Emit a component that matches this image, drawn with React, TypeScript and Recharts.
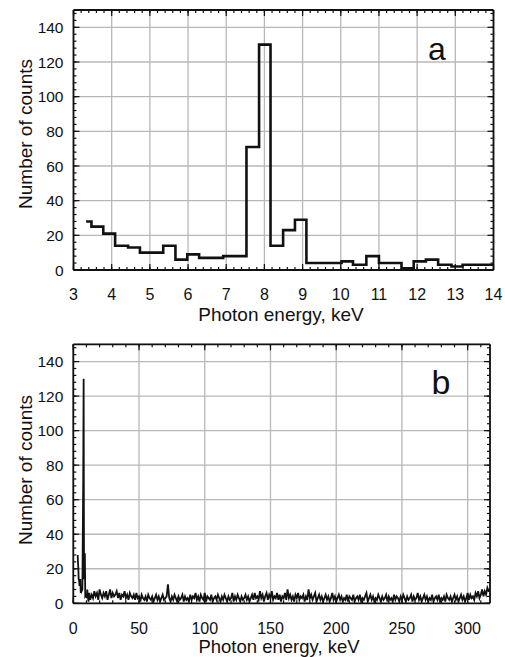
import { LineChart, Line, XAxis, YAxis, CartesianGrid, ReferenceLine } from 'recharts';

const FONT = '"Liberation Sans", Arial, Helvetica, sans-serif';

// panel a: left edge of each histogram bin (keV) and its counts
const binEdges = [3.33, 3.47, 3.78, 4.09, 4.43, 4.74, 5.35, 5.67, 5.98, 6.29, 6.92, 7.53, 7.86, 8.16, 8.49, 8.8, 9.1, 10.02, 10.32, 10.67, 11.0, 11.59, 11.91, 12.23, 12.55, 12.9, 13.19, 14.0];
const binCounts = [28, 25, 21, 14, 13, 10, 14, 6, 9, 7, 8, 71, 130, 14, 23, 29, 4, 5, 3, 8, 4, 1, 5, 6, 3, 2, 3, 3];

// panel b: the wide spectrum above 14 keV, read in 1 keV steps (rows of 20)
const wideStart = 14;
const wideStep = 1;
const wideCounts = [
  5, 3, 7, 4, 6, 2, 8, 5, 3, 6, 4, 7, 2, 5, 8, 3, 6, 4, 5, 7,
  3, 6, 2, 5, 4, 7, 3, 5, 2, 6, 4, 3, 5, 2, 6, 3, 4, 1, 5, 3,
  2, 4, 1, 5, 3, 2, 4, 1, 3, 5, 2, 4, 1, 3, 5, 2, 3, 4, 11, 3,
  1, 4, 2, 5, 3, 1, 4, 2, 3, 5, 1, 4, 2, 3, 1, 5, 2, 4, 3, 6,
  2, 4, 1, 5, 3, 2, 6, 1, 4, 3, 2, 5, 1, 3, 4, 2, 5, 3, 1, 4,
  2, 5, 3, 1, 4, 2, 3, 6, 1, 4, 2, 5, 3, 1, 4, 2, 3, 5, 2, 4,
  1, 3, 5, 2, 6, 3, 4, 2, 7, 3, 5, 1, 4, 6, 2, 5, 3, 7, 2, 4,
  3, 6, 2, 5, 1, 4, 3, 6, 2, 8, 3, 5, 2, 4, 1, 5, 3, 6, 2, 4,
  3, 5, 1, 4, 2, 8, 3, 5, 2, 4, 6, 1, 3, 5, 2, 4, 1, 3, 5, 2,
  4, 1, 3, 6, 2, 4, 1, 3, 5, 2, 4, 1, 3, 2, 5, 1, 4, 3, 2, 5,
  1, 3, 4, 2, 5, 1, 3, 2, 4, 6, 1, 3, 5, 2, 4, 1, 3, 2, 5, 3,
  1, 4, 2, 3, 5, 1, 4, 2, 3, 1, 5, 2, 4, 3, 1, 4, 2, 5, 3, 1,
  4, 2, 3, 5, 1, 4, 2, 3, 6, 2, 4, 1, 3, 5, 2, 4, 1, 3, 2, 5,
  1, 3, 4, 2, 5, 1, 3, 2, 4, 1, 5, 3, 2, 4, 1, 3, 5, 2, 4, 1,
  3, 5, 2, 4, 1, 3, 6, 2, 5, 3, 4, 2, 6, 4, 7, 3, 5, 8, 4, 7,
  5, 9, 7,
];
const wideEnd = 317;

// axis ticks
const countTicks = [0, 20, 40, 60, 80, 100, 120, 140];
const aTicksX = [3, 4, 5, 6, 7, 8, 9, 10, 11, 12, 13, 14];
const bTicksX = [0, 50, 100, 150, 200, 250, 300];

const range = (from: number, to: number, step: number) => {
  const out: number[] = [];
  for (let v = from; v <= to + 1e-9; v += step) out.push(Math.round(v * 100) / 100);
  return out;
};
const countMinor = range(0, 148, 4);
const aMinorX = range(3, 14, 0.2);
const bMinorX = range(0, 310, 10);

const dataA = binEdges.map((e, i) => ({ e, v: binCounts[i] }));
const dataB = [
  ...binEdges.slice(0, -1).map((e, i) => ({ e, v: binCounts[i] })),
  ...wideCounts.map((v, i) => ({ e: wideStart + wideStep * i, v })),
  { e: wideEnd, v: wideCounts[wideCounts.length - 1] },
];

const Y_MAX = 150;
const frameLine = { stroke: '#111', strokeWidth: 1.8 };

// inward tick marks on all four sides, drawn as short reference segments.
// lengths are in data units: px / (px per unit) for each chart's plot size
function tickMarks(id: string, x0: number, x1: number, ticksX: number[], minorX: number[], pxPerX: number, pxPerY: number) {
  const out: any[] = [];
  const seg = (key: string, a: any, b: any) =>
    out.push(<ReferenceLine key={key} segment={[a, b]} stroke="#111" strokeWidth={1.2} ifOverflow="visible" />);
  const addX = (vals: number[], px: number, tag: string) =>
    vals.forEach((t) => {
      seg(`${id}b${tag}${t}`, { x: t, y: 0 }, { x: t, y: px / pxPerY });
      seg(`${id}t${tag}${t}`, { x: t, y: Y_MAX }, { x: t, y: Y_MAX - px / pxPerY });
    });
  const addY = (vals: number[], px: number, tag: string) =>
    vals.forEach((t) => {
      seg(`${id}l${tag}${t}`, { x: x0, y: t }, { x: x0 + px / pxPerX, y: t });
      seg(`${id}r${tag}${t}`, { x: x1, y: t }, { x: x1 - px / pxPerX, y: t });
    });
  addX(ticksX, 6, 'M');
  addX(minorX, 3, 'm');
  addY(countTicks, 6, 'M');
  addY(countMinor, 3, 'm');
  return out;
}

const tickText = { fontSize: 16, fill: '#111', fontFamily: FONT };
const yTickText = { fontSize: 15.5, fill: '#111', fontFamily: FONT };

// plot sizes (chart width - margins - y axis width, chart height - margins - x axis height)
const plotA = { w: 505 - 11.5 - 33.5 - 40, h: 320 - 10 - 50 };
const plotB = { w: 505 - 15 - 33.3 - 40, h: 337 - 24.3 - 53.7 };

export default function App() {
  return (
    <div style={{ position: 'absolute', left: 0, top: 0, width: 505, height: 657, background: '#fff' }}>
      <LineChart width={505} height={320} data={dataA} margin={{ top: 10, right: 11.5, left: 33.5, bottom: 0 }}>
        <CartesianGrid stroke="#b8b8b8" strokeWidth={1.3} />
        <XAxis type="number" dataKey="e" domain={[3, 14]} ticks={aTicksX} interval={0} height={50} tickSize={0} tickMargin={19} tickLine={false} axisLine={frameLine} tick={tickText} allowDataOverflow />
        <YAxis type="number" domain={[0, Y_MAX]} ticks={countTicks} interval={0} width={40} tickSize={0} tickMargin={10} tickLine={false} axisLine={frameLine} tick={yTickText} allowDataOverflow />
        <ReferenceLine y={Y_MAX} {...frameLine} ifOverflow="visible" />
        <ReferenceLine x={14} {...frameLine} ifOverflow="visible" />
        {tickMarks('a', 3, 14, aTicksX, aMinorX, plotA.w / 11, plotA.h / Y_MAX)}
        <Line type="stepAfter" dataKey="v" stroke="#111" strokeWidth={2.6} dot={false} isAnimationActive={false} />
      </LineChart>
      <LineChart width={505} height={337} data={dataB} margin={{ top: 24.3, right: 15, left: 33.3, bottom: 0 }}>
        <CartesianGrid stroke="#b8b8b8" strokeWidth={1.3} />
        <XAxis type="number" dataKey="e" domain={[0, wideEnd]} ticks={bTicksX} interval={0} height={53.7} tickSize={0} tickMargin={19} tickLine={false} axisLine={frameLine} tick={tickText} allowDataOverflow />
        <YAxis type="number" domain={[0, Y_MAX]} ticks={countTicks} interval={0} width={40} tickSize={0} tickMargin={10} tickLine={false} axisLine={frameLine} tick={yTickText} allowDataOverflow />
        <ReferenceLine y={Y_MAX} {...frameLine} ifOverflow="visible" />
        <ReferenceLine x={wideEnd} {...frameLine} ifOverflow="visible" />
        {tickMarks('b', 0, wideEnd, bTicksX, bMinorX, plotB.w / wideEnd, plotB.h / Y_MAX)}
        <Line type="linear" dataKey="v" stroke="#111" strokeWidth={1.8} dot={false} isAnimationActive={false} />
      </LineChart>
      <svg width={505} height={657} style={{ position: 'absolute', left: 0, top: 0, pointerEvents: 'none' }}>
        <g fontFamily={FONT} fill="#111">
          <text transform="translate(32,134) rotate(-90)" textAnchor="middle" fontSize={19}>Number of counts</text>
          <text transform="translate(32,470) rotate(-90)" textAnchor="middle" fontSize={19}>Number of counts</text>
          <text x={281} y={321} textAnchor="middle" fontSize={19}>Photon energy, keV</text>
          <text x={279} y={653} textAnchor="middle" fontSize={18.5}>Photon energy, keV</text>
          <text x={437} y={60} textAnchor="middle" fontSize={32}>a</text>
          <text x={441} y={394} textAnchor="middle" fontSize={34}>b</text>
        </g>
      </svg>
    </div>
  );
}
